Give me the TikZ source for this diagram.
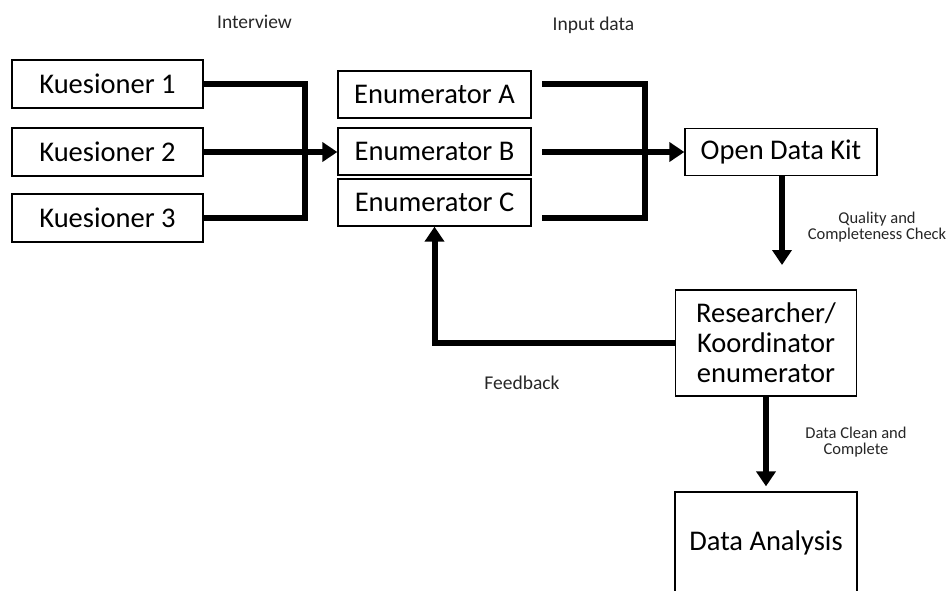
\documentclass[tikz,border=0pt]{standalone}
\usepackage{fontspec}
\setmainfont{Carlito}
\usetikzlibrary{arrows.meta}
\tikzset{
  box/.style={draw=black, line width=1.3pt, minimum width=191pt, minimum height=47pt, inner sep=0pt,
              font=\fontsize{28.5}{30}\selectfont, align=center},
  flow/.style={line width=6pt, line join=miter},
  tip/.style={-{Triangle[length=15pt,width=19pt]}},
  lbl/.style={font=\fontsize{19.5}{21}\selectfont, text=black!85},
  slbl/.style={font=\fontsize{16.5}{16}\selectfont, align=center, text=black!85},
}
\begin{document}
\begin{tikzpicture}[x=1pt,y=-1pt]
\useasboundingbox (0,0) rectangle (951,590);
\clip (0,0) rectangle (951,590);
% nodes
\node[box, minimum height=48pt] (k1) at (107.5,84) {Kuesioner 1};
\node[box, minimum height=48pt] (k2) at (107.5,152) {Kuesioner 2};
\node[box, minimum height=48pt] (k3) at (107.5,218) {Kuesioner 3};
\node[box, minimum width=193pt] (ea) at (434.5,94.5) {Enumerator A};
\node[box, minimum width=193pt] (eb) at (434.5,151.5) {Enumerator B};
\node[box, minimum width=193pt] (ec) at (434.5,202.5) {Enumerator C};
\node[box, minimum width=192pt] (odk) at (781,152) {Open Data Kit};
\node[box, minimum width=181pt, minimum height=106pt] (res) at (766,343) {Researcher/\\Koordinator\\enumerator};
\node[box, minimum width=182pt, minimum height=102pt] (da) at (766,543) {Data Analysis};
% coordinates
\coordinate (jl) at (305,84);
\coordinate (jl3) at (305,218);
\coordinate (ra) at (542,84);
\coordinate (rb) at (542,152);
\coordinate (rc) at (542,218);
\coordinate (jr) at (645,84);
\coordinate (jr3) at (645,218);
\coordinate (qend) at (782,265);
% connectors
\draw[flow] (k1.east) -- (jl) -- (jl3) -- (k3.east);
\draw[flow, tip] (k2.east) -- (k2.east -| eb.west);
\draw[flow] (ra) -- (jr) -- (jr3) -- (rc);
\draw[flow, tip] (rb) -- (odk.west);
\draw[flow, tip] (odk.south -| qend) -- (qend);
\draw[flow, tip] (res.west) -| (ec.south);
\draw[flow, tip, shorten >=5pt] (res.south) -- (da.north);
% labels
\node[lbl] (tint) at (254.5,22) {Interview};
\node[lbl] (tin) at (593.5,25) {Input data};
\node[slbl] (tq) at (877,227) {Quality and\\Completeness Check};
\node[lbl] (tf) at (522,383) {Feedback};
\node[slbl] (tdc) at (856,442) {Data Clean and\\Complete};
\end{tikzpicture}
\end{document}
